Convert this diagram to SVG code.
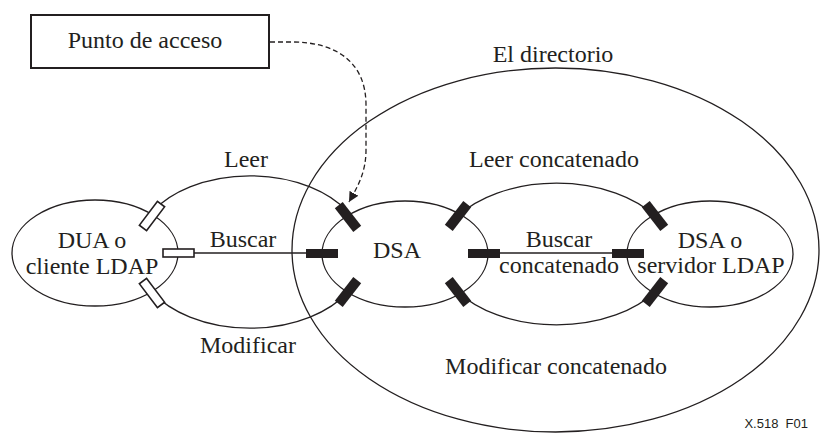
<svg xmlns="http://www.w3.org/2000/svg" width="822" height="437" viewBox="0 0 822 437">
<style>
.ln{fill:none;stroke:#231f20;stroke-width:1.3}
.t{font-family:"Liberation Serif","Times New Roman",serif;font-size:24px;fill:#231f20;text-anchor:middle}
.cb{fill:#231f20}
.cw{fill:#fff;stroke:#231f20;stroke-width:1.6}
.wire{stroke:#231f20;stroke-width:1.5}
</style>
<defs>
<marker id="ah" viewBox="0 0 10 10" refX="10" refY="5" markerWidth="10" markerHeight="10" markerUnits="userSpaceOnUse" orient="auto">
<path d="M0,0 L10,5 L0,10 Z" fill="#231f20"/>
</marker>
</defs>
<rect width="822" height="437" fill="#fff"/>

<g id="directorio">
<ellipse class="ln" cx="555.5" cy="250" rx="263.5" ry="182"/>
<text class="t" x="553" y="62">El directorio</text>
</g>

<g id="punto-acceso">
<rect x="31" y="15" width="238" height="53" fill="#fff" stroke="#231f20" stroke-width="2"/>
<text class="t" x="145" y="48">Punto de acceso</text>
</g>

<g id="connectors">
<path class="ln" d="M152,212 A114,74 0 0 1 348,212"/>
<path class="ln" d="M152,292 A114,74 0 0 0 348,292"/>
<path class="ln" d="M458,216 A118,73 0 0 1 655,216"/>
<path class="ln" d="M458,292 A118,73 0 0 0 655,292"/>
<line class="wire" x1="194" y1="253" x2="306" y2="253"/>
<line class="wire" x1="500" y1="253" x2="612" y2="253"/>
<path d="M270,42 L292,42 C336,42 366,62 366,105 L366,150 C366,172 358,186 349,202" fill="none" stroke="#231f20" stroke-width="1.3" stroke-dasharray="5,3" marker-end="url(#ah)"/>
<text class="t" x="246" y="167">Leer</text>
<text class="t" x="243" y="247">Buscar</text>
<text class="t" x="248" y="353">Modificar</text>
<text class="t" x="554" y="167">Leer concatenado</text>
<text class="t" x="559" y="247">Buscar</text>
<text class="t" x="559" y="273">concatenado</text>
<text class="t" x="556" y="374">Modificar concatenado</text>
</g>

<g id="dua">
<ellipse class="ln" cx="95" cy="253" rx="83" ry="53"/>
<text class="t" x="92" y="248">DUA o</text>
<text class="t" x="92" y="274">cliente LDAP</text>
<rect class="cw" x="-15" y="-4.5" width="30" height="9" transform="translate(152,216) rotate(-53)"/>
<rect class="cw" x="163" y="249" width="31" height="8"/>
<rect class="cw" x="-15" y="-4.5" width="30" height="9" transform="translate(152,293) rotate(53)"/>
</g>

<g id="dsa">
<ellipse class="ln" cx="405" cy="254" rx="83" ry="53"/>
<text class="t" x="397" y="258">DSA</text>
<rect class="cb" x="-15" y="-5" width="30" height="10" transform="translate(348,217) rotate(52)"/>
<rect class="cb" x="306" y="249" width="32" height="9"/>
<rect class="cb" x="-15" y="-5" width="30" height="10" transform="translate(348,292) rotate(-52)"/>
<rect class="cb" x="-15" y="-5" width="30" height="10" transform="translate(458,216) rotate(-52)"/>
<rect class="cb" x="468" y="249" width="32" height="9"/>
<rect class="cb" x="-15" y="-5" width="30" height="10" transform="translate(458,292) rotate(52)"/>
</g>

<g id="dsa-servidor">
<ellipse class="ln" cx="710" cy="254" rx="83" ry="53"/>
<text class="t" x="710" y="248">DSA o</text>
<text class="t" x="711" y="273">servidor LDAP</text>
<rect class="cb" x="-15" y="-5" width="30" height="10" transform="translate(655,216) rotate(52)"/>
<rect class="cb" x="612" y="249" width="32" height="9"/>
<rect class="cb" x="-15" y="-5" width="30" height="10" transform="translate(655,292) rotate(-52)"/>
</g>

<text x="808" y="428" font-family="'Liberation Sans',Arial,sans-serif" font-size="13" fill="#231f20" text-anchor="end" style="white-space:pre">X.518  F01</text>
</svg>
